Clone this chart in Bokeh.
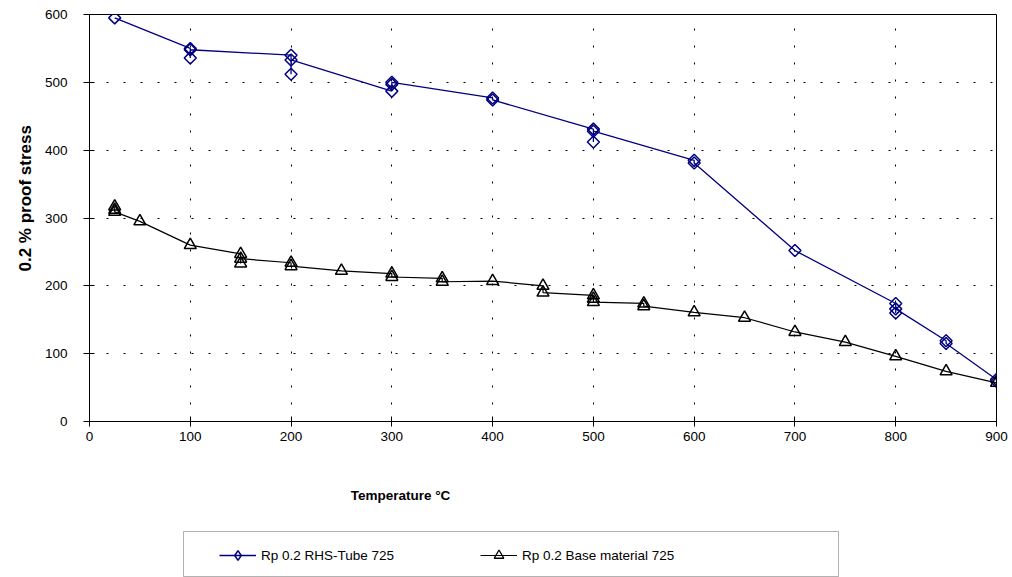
import math
from bokeh.plotting import figure
from bokeh.layouts import column
from bokeh.models import Range1d, FixedTicker, Label, Legend, LegendItem, BoxAnnotation, Title
from bokeh.embed import file_html
from bokeh.resources import INLINE

# ---- data ----
x_ticks = [0, 100, 200, 300, 400, 500, 600, 700, 800, 900]
y_ticks = [0, 100, 200, 300, 400, 500, 600]

tube_temp = [25, 100, 100, 100, 200, 200, 200, 300, 300, 300, 400, 400,
             500, 500, 500, 600, 600, 700, 800, 800, 800, 850, 850, 900, 900]
tube_rp = [595, 550, 536, 548, 540, 512, 533, 487, 497, 500, 477, 474,
           431, 412, 428, 385, 381, 252, 174, 160, 166, 119, 115, 62, 59]

base_temp = [25, 25, 25, 50, 100, 150, 150, 150, 200, 200, 250, 300, 300,
             350, 350, 400, 450, 450, 500, 500, 500, 550, 550, 600, 650,
             700, 750, 800, 850, 900]
base_rp = [317, 312, 309, 295, 260, 247, 233, 240, 234, 229, 222, 218, 213,
           211, 206, 207, 200, 190, 186, 181, 176, 174, 170, 161, 153,
           132, 117, 96, 74, 57]

tube_label = "Rp 0.2 RHS-Tube 725"
base_label = "Rp 0.2 Base material 725"
x_title = "Temperature °C"
y_title = "0.2 % proof stress"

FONT = "Liberation Sans"
NAVY = "#000080"
W = 1012
LEFT, RIGHT = 89, 16
TOP_H = 448
BOT_H = 577 - TOP_H

# ---------------- main chart ----------------
p = figure(width=W, height=TOP_H, x_range=Range1d(0, 900), y_range=Range1d(0, 600),
           output_backend="svg", toolbar_location=None,
           min_border_left=LEFT, min_border_right=RIGHT, min_border_top=14,
           min_border_bottom=TOP_H - 421)
p.background_fill_color = "white"
p.border_fill_color = "white"
p.outline_line_color = "black"
p.outline_line_width = 1

p.xaxis.ticker = FixedTicker(ticks=x_ticks)
p.yaxis.ticker = FixedTicker(ticks=y_ticks)
for ax in (p.xaxis, p.yaxis):
    ax.axis_line_color = "black"
    ax.axis_line_width = 1
    ax.major_tick_line_color = "black"
    ax.minor_tick_line_color = None
    ax.major_label_text_font = FONT
    ax.major_label_text_font_size = "13.5px"
    ax.major_label_text_color = "black"
p.xaxis.major_tick_in = 5
p.xaxis.major_tick_out = 5
p.xaxis.major_label_standoff = 5
p.yaxis.major_tick_in = 5
p.yaxis.major_tick_out = 6
p.yaxis.major_label_standoff = 16

for g in (p.xgrid, p.ygrid):
    g.grid_line_color = "black"
    g.grid_line_width = 1
    g.grid_line_dash = "2 15"

p.line(tube_temp, tube_rp, line_color=NAVY, line_width=1.3)
p.scatter(tube_temp, tube_rp, marker="square", angle=math.pi / 4, size=8.5,
          fill_color=None, line_color=NAVY, line_width=1.5)
p.line(base_temp, base_rp, line_color="black", line_width=1.2)
p.scatter(base_temp, base_rp, marker="triangle", size=12,
          fill_color=None, line_color="black", line_width=1.5)

p.add_layout(Title(text=y_title, align="left", offset=150, standoff=13,
                   text_font=FONT, text_font_style="bold", text_font_size="17px",
                   text_color="black"), "left")

# ---------------- bottom strip: axis title + legend ----------------
# x/y of this strip are plain canvas pixels (x from page left, y from strip top)
q = figure(width=W, height=BOT_H, x_range=Range1d(LEFT, W - RIGHT), y_range=Range1d(BOT_H, 0),
           output_backend="svg", toolbar_location=None, x_axis_type=None, y_axis_type=None,
           min_border_left=LEFT, min_border_right=RIGHT, min_border_top=0,
           min_border_bottom=0)
q.background_fill_color = "white"
q.border_fill_color = "white"
q.outline_line_color = None
q.xgrid.visible = False
q.ygrid.visible = False

q.add_layout(Label(x=400, y=495 - TOP_H, text=x_title, text_align="center",
                   text_baseline="middle", text_font=FONT, text_font_style="bold",
                   text_font_size="13.5px", text_color="black"))

q.add_layout(BoxAnnotation(left=183, right=838, top=531 - TOP_H, bottom=576 - TOP_H,
                           fill_color=None, fill_alpha=0, line_color="black", line_width=1))

# legend-only proxy renderers (NaN data, never visible in the strip)
nan = [float("nan")]
k1 = q.line(x=nan, y=nan, line_color=NAVY, line_width=1.3)
k2 = q.scatter(x=nan, y=nan, marker="diamond", size=10,
               fill_color=None, line_color=NAVY, line_width=1.5)
k3 = q.line(x=nan, y=nan, line_color="black", line_width=1.2)
k4 = q.scatter(x=nan, y=nan, marker="triangle", size=10,
               fill_color=None, line_color="black", line_width=1.3)

legend = Legend(items=[LegendItem(label=tube_label, renderers=[k1, k2]),
                       LegendItem(label=base_label, renderers=[k3, k4])],
                orientation="horizontal", location=(219 - LEFT, BOT_H - (567 - TOP_H)),
                glyph_width=37, glyph_height=24, label_height=24, label_standoff=5,
                label_width=200, spacing=19, padding=0, margin=0, border_line_color=None,
                background_fill_alpha=0, label_text_font=FONT,
                label_text_font_size="13.5px", label_text_color="black")
q.add_layout(legend)

layout = column(p, q, spacing=0)
open("out.html", "w").write(file_html(layout, INLINE))
